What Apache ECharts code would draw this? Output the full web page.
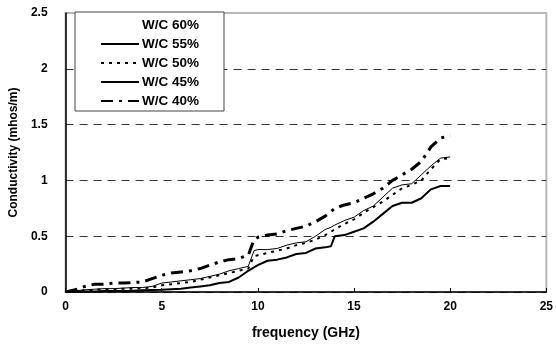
<!DOCTYPE html>
<html>
<head>
<meta charset="utf-8">
<script src="https://cdn.jsdelivr.net/npm/echarts@6/dist/echarts.min.js"></script>
<style>
  html, body { margin: 0; padding: 0; background: #fff; }
  #main { width: 556px; height: 345px; }
</style>
</head>
<body>
<div id="main"></div>
<script>
// frequency (GHz)
const freq = [0, 0.5, 1, 1.5, 2, 2.5, 3, 3.5, 4, 4.5, 5, 5.5, 6, 6.5, 7, 7.5, 8, 8.5, 9, 9.5, 9.8,
   10, 10.5, 11, 11.5, 12, 12.5, 13, 13.5, 13.8, 14, 14.5, 15, 15.5, 16, 16.5, 17, 17.5, 18, 18.5, 19, 19.5, 20];

// conductivity (mhos/m)
const wc55 = [0, 0, 0.005, 0.005, 0.01, 0.01, 0.01, 0.012, 0.015, 0.018, 0.02, 0.025, 0.03, 0.04, 0.05, 0.06, 0.08, 0.09, 0.13, 0.19, 0.22,
   0.24, 0.28, 0.29, 0.31, 0.34, 0.35, 0.39, 0.40, 0.41, 0.50, 0.51, 0.54, 0.57, 0.63, 0.70, 0.77, 0.80, 0.80, 0.84, 0.92, 0.95, 0.95];
const wc50 = [0, 0.01, 0.015, 0.02, 0.025, 0.025, 0.03, 0.03, 0.035, 0.04, 0.06, 0.07, 0.08, 0.09, 0.11, 0.13, 0.15, 0.17, 0.19, 0.21, 0.32,
   0.33, 0.35, 0.37, 0.39, 0.42, 0.44, 0.47, 0.51, 0.54, 0.56, 0.61, 0.65, 0.71, 0.76, 0.81, 0.87, 0.93, 0.96, 1.00, 1.10, 1.19, 1.20];
const wc45 = [0, 0.01, 0.02, 0.025, 0.03, 0.03, 0.035, 0.04, 0.04, 0.05, 0.08, 0.09, 0.10, 0.11, 0.12, 0.14, 0.16, 0.19, 0.21, 0.23, 0.37,
   0.38, 0.38, 0.39, 0.42, 0.44, 0.45, 0.50, 0.56, 0.58, 0.60, 0.64, 0.67, 0.73, 0.77, 0.85, 0.93, 0.96, 0.97, 1.05, 1.13, 1.20, 1.21];
const wc40 = [0, 0.02, 0.05, 0.07, 0.07, 0.08, 0.08, 0.085, 0.09, 0.12, 0.15, 0.17, 0.18, 0.19, 0.21, 0.24, 0.27, 0.29, 0.30, 0.33, 0.47,
   0.49, 0.51, 0.52, 0.55, 0.57, 0.59, 0.63, 0.68, 0.72, 0.75, 0.78, 0.80, 0.84, 0.88, 0.93, 1.00, 1.05, 1.10, 1.17, 1.30, 1.38, 1.40];

const legendNames = ["W/C 60%", "W/C 55%", "W/C 50%", "W/C 45%", "W/C 40%"];

const font = "Arial, 'Liberation Sans', sans-serif";
const pairs = (vals) => freq.map((f, i) => [f, vals[i]]);

const line = (name, vals, width, type) => ({
   name,
   type: "line",
   symbol: "none",
   color: "#000",
   lineStyle: { color: "#000", width, type },
   data: pairs(vals),
});

const chart = echarts.init(document.getElementById("main"));

chart.setOption({
   animation: false,
   grid: {
      left: 63, right: 7, top: 13, bottom: 49,
      show: true, borderColor: "#b8b8b8", borderWidth: 2,
   },
   legend: {
      data: legendNames,
      orient: "vertical",
      left: 75, top: 12,
      padding: [6, 25, 3, 25],
      itemWidth: 38, itemHeight: 14, itemGap: 5,
      itemStyle: { opacity: 0 },
      backgroundColor: "#fff",
      borderColor: "#444", borderWidth: 1,
      textStyle: { fontFamily: font, fontWeight: "bold", fontSize: 13.5, color: "#000", padding: [0, 0, 0, -2] },
   },
   xAxis: {
      type: "value",
      min: 0, max: 25, interval: 5,
      name: "frequency (GHz)",
      nameLocation: "middle",
      nameGap: 34,
      nameTextStyle: { fontFamily: font, fontWeight: "bold", fontSize: 14, color: "#000" },
      axisLine: { lineStyle: { color: "#000", width: 1.5 } },
      axisTick: { inside: true, length: 4, lineStyle: { color: "#000" } },
      axisLabel: { fontFamily: font, fontWeight: "bold", fontSize: 12, color: "#000", margin: 9 },
      splitLine: { show: false },
   },
   yAxis: {
      type: "value",
      min: 0, max: 2.5, interval: 0.5,
      name: "Conductivity (mhos/m)",
      nameLocation: "middle",
      nameGap: 44,
      nameTextStyle: { fontFamily: font, fontWeight: "bold", fontSize: 12, color: "#000" },
      axisLine: { show: true, lineStyle: { color: "#000", width: 1.5 } },
      axisTick: { show: false },
      axisLabel: { fontFamily: font, fontWeight: "bold", fontSize: 12, color: "#000", margin: 18 },
      splitLine: {
         show: true,
         lineStyle: {
            color: ["#333", "#333", "#333", "#333", "#333", "transparent"],
            type: [8, 6], width: 1,
         },
      },
   },
   series: [
      { name: "W/C 60%", type: "line", symbol: "none", color: "#fff", lineStyle: { opacity: 0 }, data: [] },
      line("W/C 55%", wc55, 2, "solid"),
      line("W/C 50%", wc50, 2, [3, 5]),
      line("W/C 45%", wc45, 1, "solid"),
      line("W/C 40%", wc40, 3, [12, 6, 3, 6]),
   ],
});
</script>
</body>
</html>
